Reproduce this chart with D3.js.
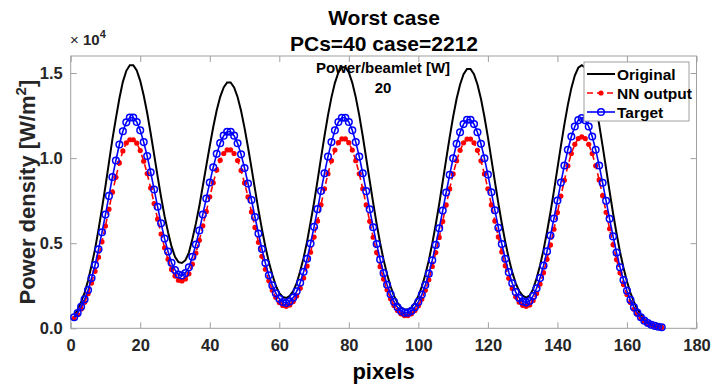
<!DOCTYPE html>
<html><head><meta charset="utf-8">
<script src="https://cdn.jsdelivr.net/npm/d3@7"></script>
<style>
body{margin:0;background:#fff;}
text{font-family:"Liberation Sans",Arial,Helvetica,sans-serif;}
</style>
</head><body>
<svg id="chart" width="712" height="389"></svg>
<script>
// ---------- data (power density in units of 10^4 W/m^2) ----------
const pixels = d3.range(1, 171);
const target = [
0.065,0.090,0.127,0.170,0.225,0.295,0.372,0.464,0.564,0.668,
0.778,0.889,0.986,1.080,1.158,1.210,1.238,1.238,1.212,1.163,
1.094,1.012,0.917,0.816,0.714,0.617,0.527,0.451,0.385,0.343,
0.316,0.310,0.325,0.358,0.420,0.492,0.575,0.669,0.763,0.857,
0.946,1.025,1.088,1.132,1.155,1.155,1.132,1.087,1.022,0.942,
0.851,0.754,0.654,0.557,0.466,0.383,0.311,0.252,0.206,0.173,
0.154,0.149,0.158,0.180,0.217,0.268,0.332,0.409,0.498,0.596,
0.700,0.807,0.911,1.009,1.094,1.163,1.212,1.237,1.237,1.212,
1.163,1.094,1.009,0.911,0.806,0.699,0.594,0.495,0.404,0.324,
0.256,0.200,0.156,0.124,0.102,0.092,0.092,0.102,0.123,0.155,
0.198,0.254,0.321,0.400,0.490,0.588,0.692,0.798,0.902,0.999,
1.084,1.152,1.200,1.225,1.225,1.200,1.152,1.084,0.999,0.903,
0.799,0.694,0.591,0.495,0.408,0.330,0.265,0.213,0.178,0.158,
0.151,0.160,0.190,0.235,0.295,0.368,0.452,0.545,0.645,0.751,
0.856,0.957,1.049,1.127,1.186,1.223,1.235,1.223,1.186,1.127,
1.049,0.957,0.855,0.749,0.643,0.540,0.445,0.359,0.284,0.220,
0.167,0.124,0.091,0.065,0.045,0.031,0.021,0.014,0.009,0.006];
const original = [
0.075,0.108,0.155,0.210,0.281,0.369,0.465,0.580,0.705,0.835,
0.973,1.111,1.233,1.350,1.448,1.513,1.546,1.546,1.515,1.454,
1.368,1.265,1.146,1.020,0.893,0.771,0.659,0.564,0.481,0.420,
0.389,0.384,0.400,0.445,0.525,0.615,0.719,0.836,0.954,1.071,
1.183,1.281,1.360,1.415,1.444,1.444,1.415,1.359,1.278,1.178,
1.064,0.943,0.818,0.696,0.583,0.479,0.389,0.315,0.250,0.207,
0.184,0.178,0.190,0.218,0.265,0.335,0.415,0.511,0.623,0.739,
0.868,1.001,1.130,1.251,1.357,1.442,1.503,1.534,1.534,1.503,
1.442,1.357,1.251,1.130,0.999,0.867,0.737,0.614,0.501,0.402,
0.318,0.247,0.190,0.150,0.123,0.110,0.110,0.123,0.150,0.190,
0.245,0.315,0.399,0.498,0.610,0.731,0.861,0.993,1.122,1.243,
1.349,1.433,1.493,1.524,1.524,1.493,1.433,1.349,1.243,1.123,
0.994,0.863,0.735,0.616,0.508,0.411,0.330,0.264,0.219,0.192,
0.180,0.192,0.230,0.294,0.369,0.461,0.566,0.682,0.808,0.940,
1.072,1.198,1.313,1.411,1.485,1.531,1.546,1.531,1.485,1.411,
1.313,1.198,1.070,0.938,0.805,0.676,0.557,0.449,0.356,0.275,
0.209,0.155,0.114,0.081,0.056,0.039,0.026,0.017,0.011,0.007];
const nnOutput = [
0.058,0.081,0.114,0.153,0.203,0.266,0.335,0.418,0.508,0.601,
0.700,0.800,0.887,0.972,1.042,1.089,1.108,1.108,1.088,1.044,
0.982,0.909,0.824,0.733,0.641,0.554,0.473,0.405,0.346,0.307,
0.283,0.278,0.290,0.320,0.377,0.442,0.517,0.602,0.686,0.773,
0.855,0.930,0.987,1.027,1.048,1.048,1.027,0.986,0.927,0.854,
0.772,0.684,0.593,0.505,0.423,0.347,0.279,0.224,0.182,0.151,
0.134,0.129,0.137,0.157,0.190,0.236,0.295,0.366,0.447,0.536,
0.630,0.726,0.820,0.908,0.985,1.047,1.091,1.113,1.113,1.091,
1.047,0.985,0.908,0.820,0.725,0.629,0.535,0.446,0.362,0.289,
0.226,0.174,0.134,0.105,0.085,0.075,0.075,0.085,0.104,0.133,
0.172,0.223,0.285,0.363,0.445,0.534,0.628,0.725,0.819,0.907,
0.984,1.046,1.090,1.112,1.112,1.090,1.046,0.984,0.907,0.820,
0.725,0.630,0.537,0.449,0.368,0.294,0.234,0.185,0.153,0.135,
0.129,0.137,0.164,0.205,0.260,0.327,0.405,0.490,0.582,0.680,
0.777,0.870,0.955,1.027,1.081,1.115,1.125,1.115,1.081,1.027,
0.955,0.872,0.779,0.682,0.585,0.491,0.404,0.326,0.257,0.199,
0.151,0.112,0.082,0.059,0.041,0.028,0.019,0.013,0.008,0.005];
const xTicks = [0,20,40,60,80,100,120,140,160,180];
const yTicks = [0,0.5,1.0,1.5];
const yTickLabels = ["0.0","0.5","1.0","1.5"];
const seriesNames = ["Original","NN output","Target"];

// ---------- layout ----------
const svg = d3.select("#chart");
const L = 70.7, R = 696.5, T = 56, B = 328.3;
const x = d3.scaleLinear().domain([0,180]).range([L,R]);
const y = d3.scaleLinear().domain([0,1.6]).range([B,T]);
const axisGray = "#a0a0a0", labelCol = "#262626";

svg.append("rect").attr("x",L).attr("y",T).attr("width",R-L).attr("height",B-T)
  .attr("fill","#fff").attr("stroke",axisGray).attr("stroke-width",1);

function styleAxis(g){
  g.select(".domain").remove();
  g.selectAll(".tick line").attr("stroke",axisGray);
  g.selectAll(".tick text").attr("fill",labelCol).attr("font-size",16.5).attr("font-weight","bold")
    .attr("font-family","'Liberation Sans',Arial,sans-serif");
}
const gx = svg.append("g").attr("transform",`translate(0,${B})`)
  .call(d3.axisBottom(x).tickValues(xTicks).tickSizeInner(-6).tickSizeOuter(0).tickPadding(11).tickFormat(d3.format("d")));
styleAxis(gx);
const gxt = svg.append("g").attr("transform",`translate(0,${T})`)
  .call(d3.axisTop(x).tickValues(xTicks).tickSizeInner(-6).tickSizeOuter(0).tickFormat(""));
styleAxis(gxt);
const gy = svg.append("g").attr("transform",`translate(${L},0)`)
  .call(d3.axisLeft(y).tickValues(yTicks).tickSizeInner(-6).tickSizeOuter(0).tickPadding(8)
    .tickFormat((d,i)=>yTickLabels[i]));
styleAxis(gy);
const gyr = svg.append("g").attr("transform",`translate(${R},0)`)
  .call(d3.axisRight(y).tickValues(yTicks).tickSizeInner(-6).tickSizeOuter(0).tickFormat(""));
styleAxis(gyr);

// ---------- series ----------
const mk = arr => pixels.map((p,i)=>({x:p, v:arr[i]}));
const line = d3.line().x(d=>x(d.x)).y(d=>y(d.v));
const plot = svg.append("g");

plot.append("path").datum(mk(original)).attr("d",line)
  .attr("fill","none").attr("stroke","#000").attr("stroke-width",2);

plot.append("path").datum(mk(nnOutput)).attr("d",line)
  .attr("fill","none").attr("stroke","#ff0000").attr("stroke-width",1.6).attr("stroke-dasharray","6,4");
plot.append("g").selectAll("circle").data(mk(nnOutput)).join("circle")
  .attr("cx",d=>x(d.x)).attr("cy",d=>y(d.v)).attr("r",2.6).attr("fill","#ff0000");

plot.append("path").datum(mk(target)).attr("d",line)
  .attr("fill","none").attr("stroke","#0000ff").attr("stroke-width",1.6);
plot.append("g").selectAll("circle").data(mk(target)).join("circle")
  .attr("cx",d=>x(d.x)).attr("cy",d=>y(d.v)).attr("r",3.3)
  .attr("fill","none").attr("stroke","#0000ff").attr("stroke-width",1.5);

// ---------- texts ----------
const bold = sel => sel.attr("font-weight","bold").attr("fill","#000");
bold(svg.append("text").attr("x",384).attr("y",25).attr("text-anchor","middle").attr("font-size",21).text("Worst case"));
bold(svg.append("text").attr("x",384).attr("y",51).attr("text-anchor","middle").attr("font-size",21).text("PCs=40 case=2212"));

const exp = svg.append("text").attr("x",70).attr("y",45).attr("font-size",15).attr("fill",labelCol);
exp.append("tspan").text("\u00d7 ");
exp.append("tspan").attr("font-weight","bold").text("10");
exp.append("tspan").attr("font-weight","bold").attr("font-size",11).attr("dy",-7).text("4");

bold(svg.append("text").attr("x",383).attr("y",73).attr("text-anchor","middle").attr("font-size",15).text("Power/beamlet [W]"));
bold(svg.append("text").attr("x",383).attr("y",93).attr("text-anchor","middle").attr("font-size",15).text("20"));

bold(svg.append("text").attr("x",(L+R)/2).attr("y",379).attr("text-anchor","middle").attr("font-size",22).attr("fill",labelCol).text("pixels"));

const yl = svg.append("text").attr("transform",`translate(35,${(T+B)/2}) rotate(-90)`)
  .attr("text-anchor","middle").attr("font-size",22).attr("font-weight","bold").attr("fill",labelCol);
yl.append("tspan").text("Power density [W/m");
yl.append("tspan").attr("font-size",15).attr("dy",-9).text("2");
yl.append("tspan").attr("dy",9).text("]");

// ---------- legend ----------
const lg = svg.append("g");
lg.append("rect").attr("x",584).attr("y",62).attr("width",105).attr("height",59)
  .attr("fill","#fff").attr("stroke",axisGray).attr("stroke-width",1);
const ly = [74, 93, 112];
const lx0 = 587, lx1 = 615;
lg.append("line").attr("x1",lx0).attr("x2",lx1).attr("y1",ly[0]).attr("y2",ly[0]).attr("stroke","#000").attr("stroke-width",2);
lg.append("line").attr("x1",lx0).attr("x2",lx1).attr("y1",ly[1]).attr("y2",ly[1]).attr("stroke","#ff0000").attr("stroke-width",1.6).attr("stroke-dasharray","6,4");
lg.append("circle").attr("cx",(lx0+lx1)/2).attr("cy",ly[1]).attr("r",2.6).attr("fill","#ff0000");
lg.append("line").attr("x1",lx0).attr("x2",lx1).attr("y1",ly[2]).attr("y2",ly[2]).attr("stroke","#0000ff").attr("stroke-width",1.6);
lg.append("circle").attr("cx",(lx0+lx1)/2).attr("cy",ly[2]).attr("r",3.3).attr("fill","none").attr("stroke","#0000ff").attr("stroke-width",1.5);
seriesNames.forEach((n,i)=>{
  lg.append("text").attr("x",617).attr("y",ly[i]+5.5).attr("font-size",15.5).attr("font-weight","bold").attr("fill","#000").text(n);
});
</script>
</body></html>
